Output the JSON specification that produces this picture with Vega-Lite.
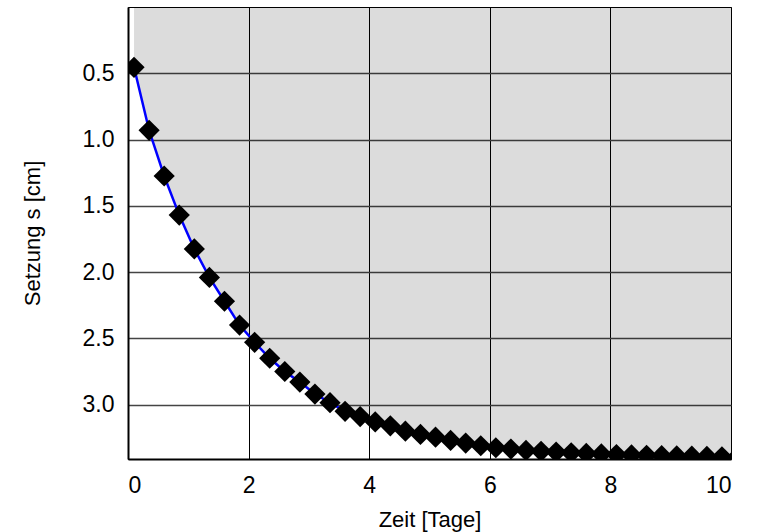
{
  "$schema": "https://vega.github.io/schema/vega-lite/v6.json",
  "autosize": "none",
  "width": 603,
  "height": 452,
  "padding": {"left": 128, "top": 7, "right": 27, "bottom": 73},
  "background": "white",
  "config": {
    "view": {"stroke": "black", "strokeWidth": 1},
    "font": "Liberation Sans",
    "axis": {
      "labelFont": "Liberation Sans",
      "titleFont": "Liberation Sans",
      "labelFontSize": 23,
      "titleFontSize": 22,
      "labelColor": "#000",
      "titleColor": "#000",
      "titleFontWeight": "normal",
      "domainColor": "#000",
      "domainWidth": 2,
      "ticks": false
    }
  },
  "data": {
    "values": [
      {"t": 0.10, "s": 0.455}, {"t": 0.35, "s": 0.93}, {"t": 0.60, "s": 1.275},
      {"t": 0.85, "s": 1.57}, {"t": 1.10, "s": 1.825}, {"t": 1.35, "s": 2.04},
      {"t": 1.60, "s": 2.22}, {"t": 1.85, "s": 2.40}, {"t": 2.10, "s": 2.53},
      {"t": 2.35, "s": 2.65}, {"t": 2.60, "s": 2.75}, {"t": 2.85, "s": 2.83},
      {"t": 3.10, "s": 2.92}, {"t": 3.35, "s": 2.985}, {"t": 3.60, "s": 3.05},
      {"t": 3.85, "s": 3.09}, {"t": 4.10, "s": 3.13}, {"t": 4.35, "s": 3.16},
      {"t": 4.60, "s": 3.20}, {"t": 4.85, "s": 3.225}, {"t": 5.10, "s": 3.245},
      {"t": 5.35, "s": 3.27}, {"t": 5.60, "s": 3.29}, {"t": 5.85, "s": 3.31},
      {"t": 6.10, "s": 3.325}, {"t": 6.35, "s": 3.335}, {"t": 6.60, "s": 3.345},
      {"t": 6.85, "s": 3.352}, {"t": 7.10, "s": 3.358}, {"t": 7.35, "s": 3.363},
      {"t": 7.60, "s": 3.368}, {"t": 7.85, "s": 3.372}, {"t": 8.10, "s": 3.376},
      {"t": 8.35, "s": 3.379}, {"t": 8.60, "s": 3.382}, {"t": 8.85, "s": 3.385},
      {"t": 9.10, "s": 3.387}, {"t": 9.35, "s": 3.389}, {"t": 9.60, "s": 3.391},
      {"t": 9.85, "s": 3.393}, {"t": 10.10, "s": 3.395}
    ]
  },
  "encoding": {
    "x": {
      "field": "t", "type": "quantitative",
      "scale": {"domain": [0, 10], "nice": false, "zero": false},
      "axis": {
        "title": "Zeit [Tage]",
        "values": [0, 2, 4, 6, 8, 10],
        "format": "d",
        "grid": true, "gridColor": "#000", "gridWidth": 1,
        "labelPadding": 15, "titlePadding": 12
      }
    },
    "y": {
      "field": "s", "type": "quantitative",
      "scale": {"domain": [0, 3.41], "reverse": true, "nice": false, "zero": false},
      "axis": {
        "title": "Setzung s [cm]",
        "values": [0.5, 1.0, 1.5, 2.0, 2.5, 3.0],
        "format": ".1f",
        "grid": true, "gridColor": "#444", "gridWidth": 1.5,
        "labelPadding": 14, "titlePadding": 38
      }
    }
  },
  "layer": [
    {
      "mark": {"type": "area", "clip": true, "fill": "#000", "fillOpacity": 0.137, "interpolate": "linear"},
      "encoding": {"y2": {"datum": 0}}
    },
    {
      "mark": {"type": "line", "clip": true, "color": "#0000ff", "strokeWidth": 2.5}
    },
    {
      "mark": {"type": "point", "shape": "diamond", "filled": true, "clip": true, "size": 450, "color": "#000", "opacity": 1}
    }
  ]
}
